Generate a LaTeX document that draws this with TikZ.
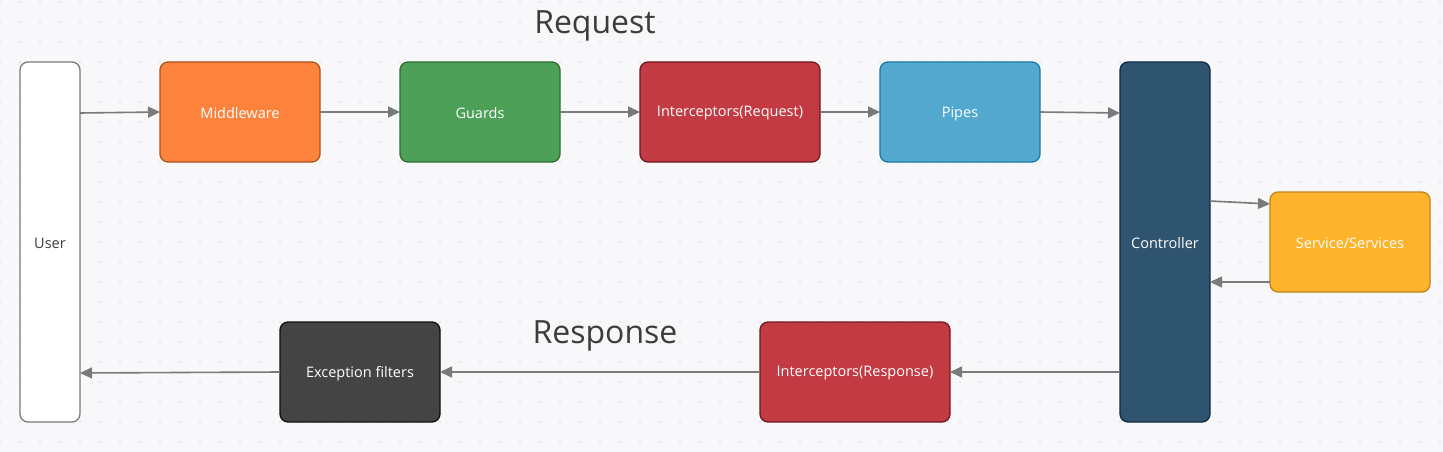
\documentclass[tikz,border=0pt]{standalone}
\usepackage{fontspec}
\setmainfont{Open Sans}
\usetikzlibrary{arrows.meta}
\definecolor{bg}{HTML}{F8F8FA}
\definecolor{dotc}{HTML}{D6D6DC}
\definecolor{edge}{HTML}{7A7A7A}
\definecolor{mwfill}{HTML}{FD833D}\definecolor{mwdraw}{HTML}{B0521E}
\definecolor{gdfill}{HTML}{4DA057}\definecolor{gddraw}{HTML}{2D6E35}
\definecolor{icfill}{HTML}{C33A42}\definecolor{icdraw}{HTML}{6E1A1F}
\definecolor{ppfill}{HTML}{53A8D0}\definecolor{ppdraw}{HTML}{1F78A5}
\definecolor{ctfill}{HTML}{2F5470}\definecolor{ctdraw}{HTML}{0E2B44}
\definecolor{svfill}{HTML}{FDB42C}\definecolor{svdraw}{HTML}{BF8617}
\definecolor{exfill}{HTML}{444444}\definecolor{exdraw}{HTML}{111111}
\definecolor{titlec}{HTML}{3C3C3C}
\tikzset{
  box/.style={rounded corners=8pt, line width=1.3pt, text=white, font=\fontsize{14.5}{16}\selectfont, inner sep=0pt},
  conn/.style={draw=edge, line width=1.6pt, -{Triangle[length=12pt,width=11pt]}},
  title/.style={text=titlec, font=\fontsize{32}{36}\selectfont, inner sep=0pt}
}
\begin{document}
\begin{tikzpicture}[x=1pt,y=-1pt]
\fill[bg] (0,0) rectangle (1443,452);
\useasboundingbox (0,0) rectangle (1443,452);
\foreach \i in {0,...,72}{\foreach \j in {0,...,22}{\fill[dotc] (\i*20,2+\j*20) circle (0.9pt);}}
% boxes
\draw[box, fill=white, draw=edge, text=titlec] (20,62) rectangle (80,422) node[midway, yshift=-1.5pt] (user) {User};
\draw[box, fill=mwfill, draw=mwdraw] (160,62) rectangle (320,162) node[midway, yshift=-1.5pt] (mw) {Middleware};
\draw[box, fill=gdfill, draw=gddraw] (400,62) rectangle (560,162) node[midway, yshift=-1.5pt] (gd) {Guards};
\draw[box, fill=icfill, draw=icdraw] (640,62) rectangle (820,162) node[midway, yshift=-1.5pt] (icq) {Interceptors(Request)};
\draw[box, fill=ppfill, draw=ppdraw] (880,62) rectangle (1040,162) node[midway, yshift=-1.5pt] (pp) {Pipes};
\draw[box, fill=ctfill, draw=ctdraw] (1120,62) rectangle (1210,422) node[midway, yshift=-1.5pt] (ct) {Controller};
\draw[box, fill=svfill, draw=svdraw] (1270,192) rectangle (1430,292) node[midway, yshift=-1.5pt] (sv) {Service/Services};
\draw[box, fill=exfill, draw=exdraw] (280,322) rectangle (440,422) node[midway, yshift=-1.5pt] (ex) {Exception filters};
\draw[box, fill=icfill, draw=icdraw] (760,322) rectangle (950,422) node[midway, yshift=-1.5pt] (icr) {Interceptors(Response)};
% titles
\node[title] (req) at (595,26) {Request};
\node[title] (resp) at (605,336) {Response};
% anchor coordinates
\coordinate (uA) at (80,113); \coordinate (mwL) at (160,112);
\coordinate (mwR) at (320,112); \coordinate (gdL) at (400,112);
\coordinate (gdR) at (560,112); \coordinate (icqL) at (640,112);
\coordinate (icqR) at (820,112); \coordinate (ppL) at (880,112);
\coordinate (ppR) at (1040,112); \coordinate (ctL) at (1120,113);
\coordinate (ctR1) at (1210,201); \coordinate (svL1) at (1270,204);
\coordinate (svL2) at (1270,282); \coordinate (ctR2) at (1210,282);
\coordinate (ctL2) at (1120,372); \coordinate (icrR) at (950,372);
\coordinate (icrL) at (760,372); \coordinate (exR) at (440,372);
\coordinate (exL) at (280,372); \coordinate (uB) at (80,373);
\draw[conn] (uA) -- (mwL);
\draw[conn] (mwR) -- (gdL);
\draw[conn] (gdR) -- (icqL);
\draw[conn] (icqR) -- (ppL);
\draw[conn] (ppR) -- (ctL);
\draw[conn] (ctR1) -- (svL1);
\draw[conn] (svL2) -- (ctR2);
\draw[conn] (ctL2) -- (icrR);
\draw[conn] (icrL) -- (exR);
\draw[conn] (exL) -- (uB);
\end{tikzpicture}
\end{document}
